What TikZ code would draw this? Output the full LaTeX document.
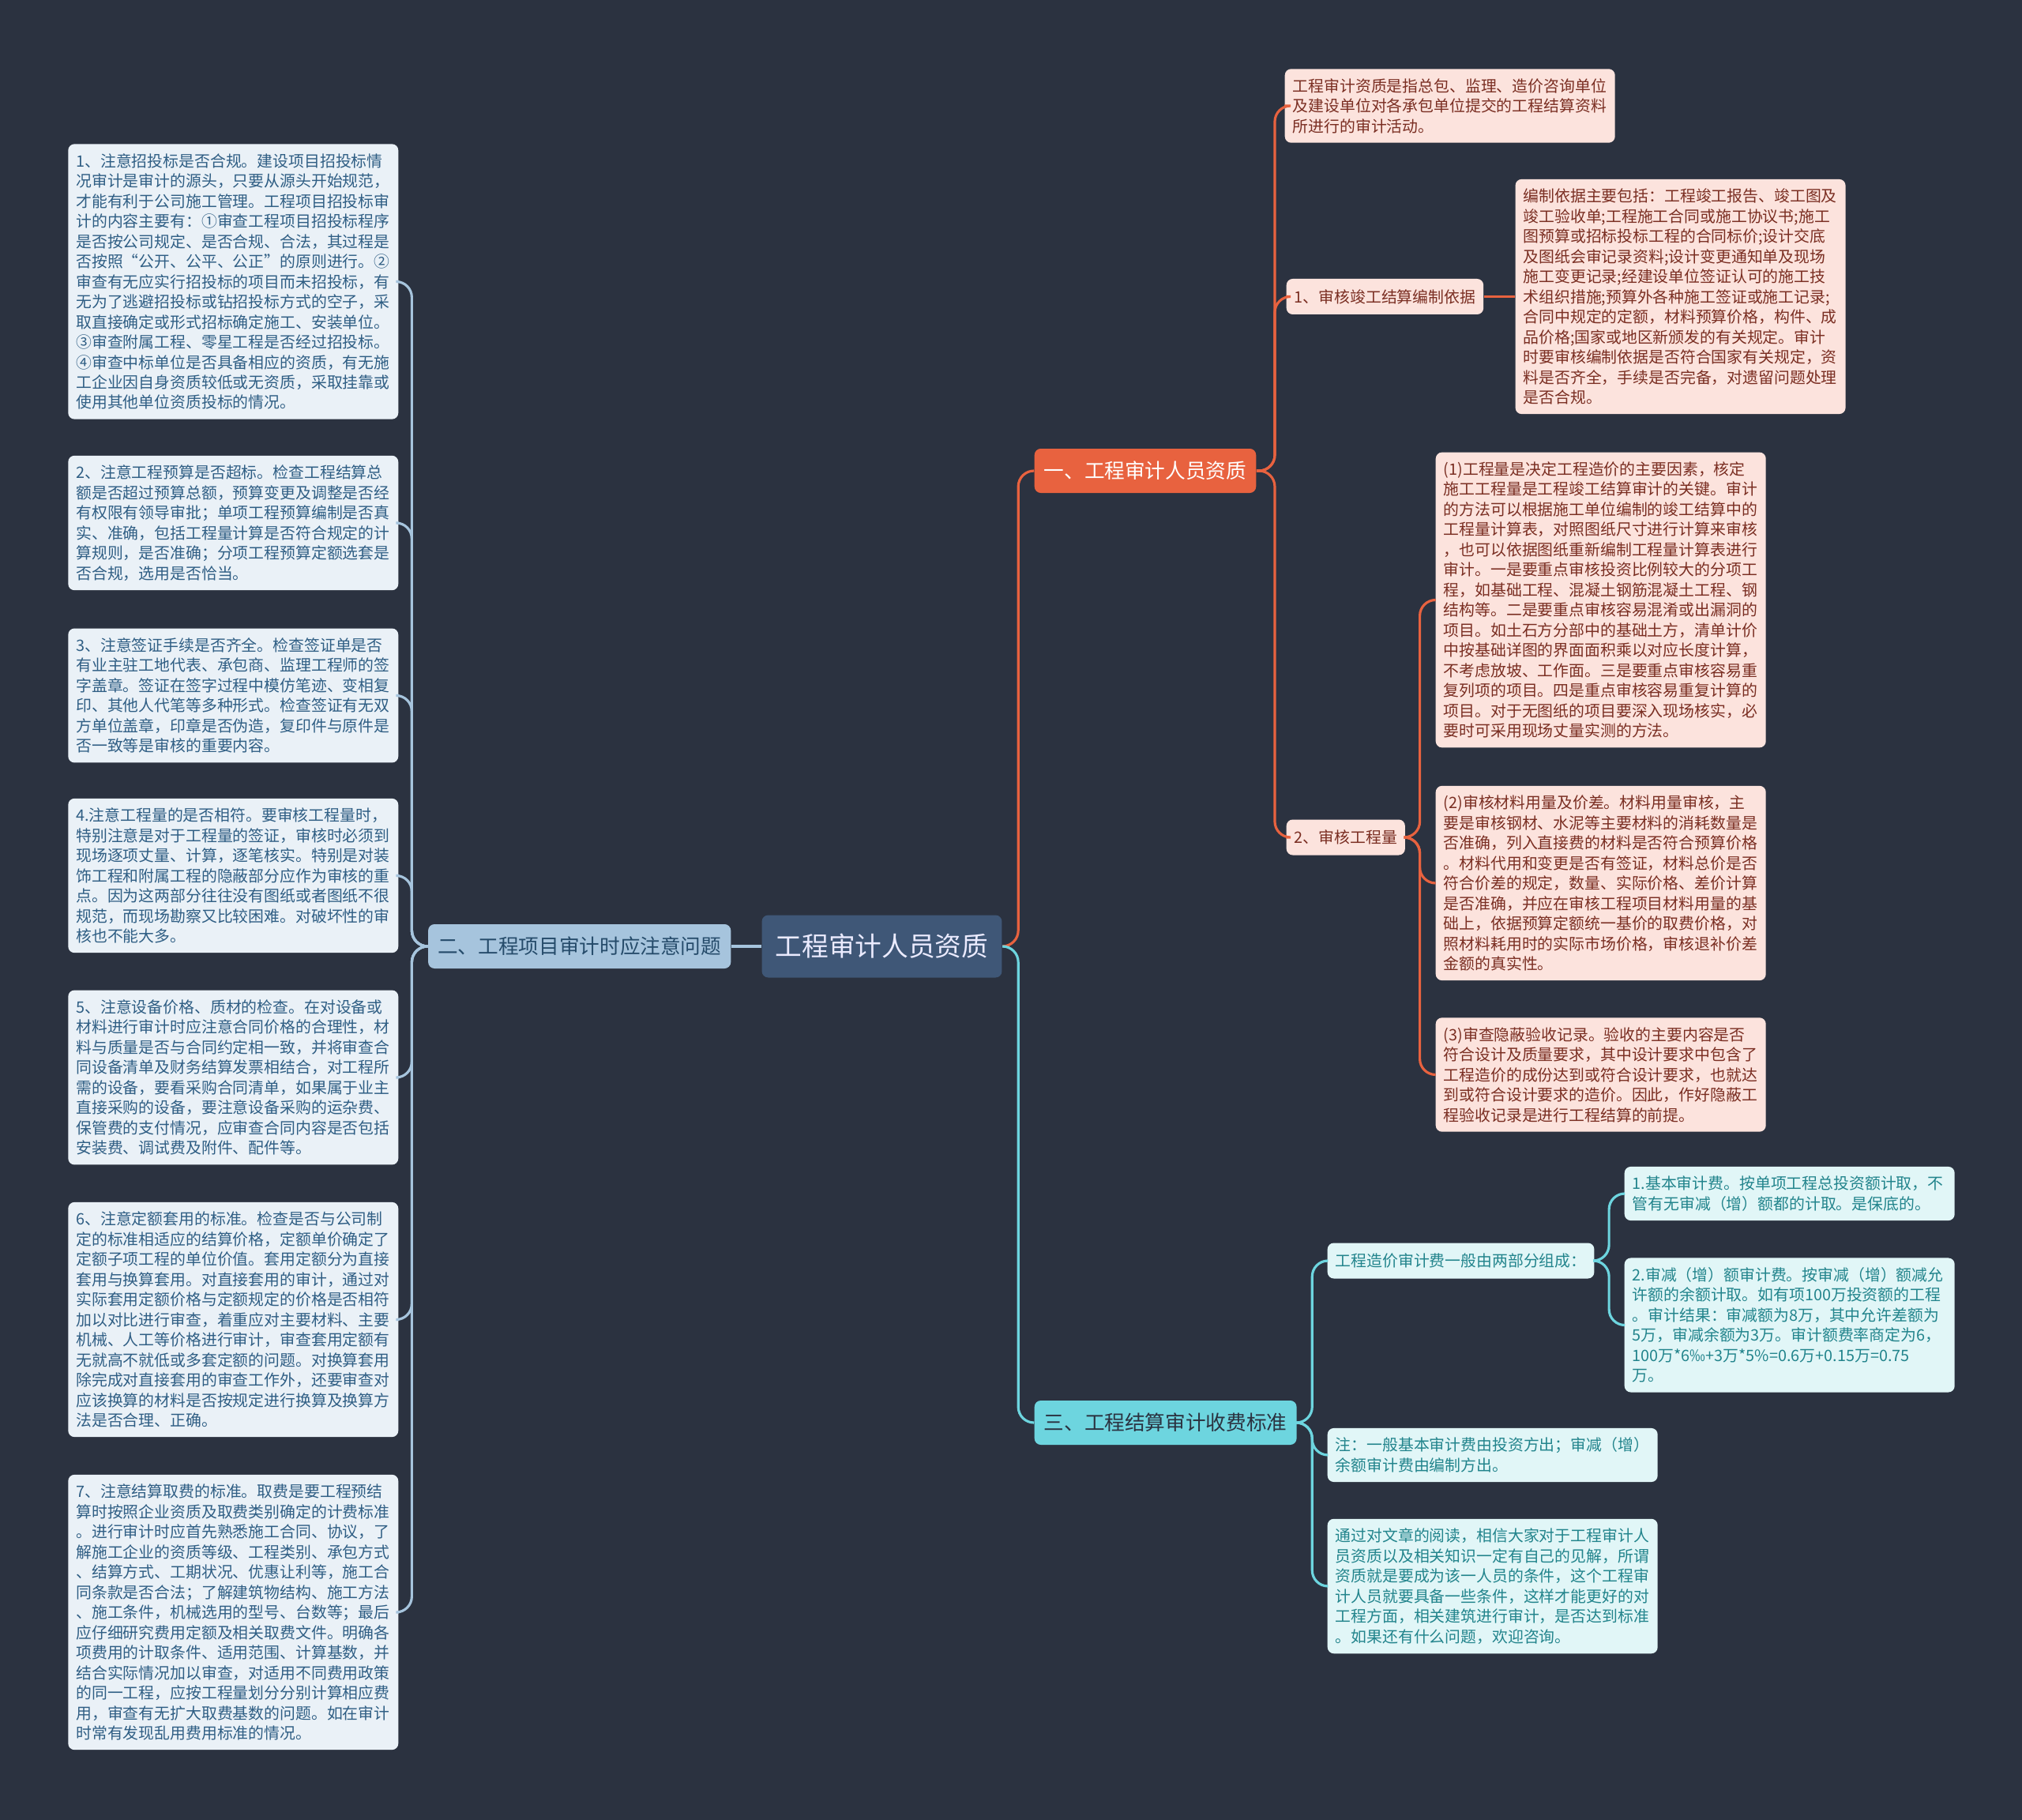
\documentclass[tikz,border=0pt]{standalone}
\usepackage{fontspec}
\usepackage{tikz}
\usetikzlibrary{positioning}
\newfontfamily\cjk{Noto Sans CJK SC}
\definecolor{bgnavy}{HTML}{2B3240}
\definecolor{rootblue}{HTML}{3F5777}
\definecolor{orangered}{HTML}{E8623F}
\definecolor{steelblue}{HTML}{A6C4DD}
\definecolor{cyanish}{HTML}{6DD5DF}
\definecolor{redleaf}{HTML}{FCE3DD}
\definecolor{redtext}{HTML}{7A2E22}
\definecolor{blueleaf}{HTML}{EAF1F7}
\definecolor{bluetext}{HTML}{2F5E84}
\definecolor{cyanleaf}{HTML}{E1F6F7}
\definecolor{cyantext}{HTML}{22848C}

\begin{document}
\begin{tikzpicture}[
    root/.style={fill=rootblue, rounded corners=0.08cm, inner xsep=0.17cm,
                minimum height=0.79cm, text=white!92!blue,
                font=\cjk\fontsize{9.6pt}{11pt}\selectfont},
    branch/.style={rounded corners=0.08cm, inner xsep=0.12cm,
                minimum height=0.56cm, font=\cjk\fontsize{7.3pt}{9pt}\selectfont},
    leaf/.style={rounded corners=0.08cm, inner xsep=0.1cm, inner ysep=0.12cm,
                text width=3.98cm, align=left,
                font=\cjk\fontsize{5.65pt}{7.25pt}\selectfont},
    tag/.style={rounded corners=0.08cm, inner xsep=0.1cm,
                minimum height=0.45cm, font=\cjk\fontsize{5.65pt}{7.25pt}\selectfont},
    redline/.style={draw=orangered, line width=0.9pt, rounded corners=0.2cm},
    blueline/.style={draw=steelblue, line width=0.9pt, rounded corners=0.2cm},
    cyanline/.style={draw=cyanish, line width=0.9pt, rounded corners=0.2cm}
]
\useasboundingbox (0,0) rectangle (25.6,-23.04);
\fill[bgnavy] (0,0) rectangle (25.6,-23.04);

% Root
\node[root] (root) at (11.165,-11.98) {工程审计人员资质};

% Branch 1: 人员资质
\node[branch, fill=orangered, text=white, anchor=west] (b1) at (13.09,-5.96)
    {一、工程审计人员资质};
\node[leaf, fill=redleaf, text=redtext, anchor=west] (t0) at (16.26,-1.34)
    {工程审计资质是指总包、监理、造价咨询单位\\
     及建设单位对各承包单位提交的工程结算资料\\
     所进行的审计活动。};
\node[tag, fill=redleaf, text=redtext, anchor=west] (s1) at (16.28,-3.755)
    {1、审核竣工结算编制依据};
\node[leaf, fill=redleaf, text=redtext, right=0.39cm of s1] (s1d)
    {编制依据主要包括：工程竣工报告、竣工图及\\
     竣工验收单;工程施工合同或施工协议书;施工\\
     图预算或招标投标工程的合同标价;设计交底\\
     及图纸会审记录资料;设计变更通知单及现场\\
     施工变更记录;经建设单位签证认可的施工技\\
     术组织措施;预算外各种施工签证或施工记录;\\
     合同中规定的定额，材料预算价格，构件、成\\
     品价格;国家或地区新颁发的有关规定。审计\\
     时要审核编制依据是否符合国家有关规定，资\\
     料是否齐全，手续是否完备，对遗留问题处理\\
     是否合规。};
\node[tag, fill=redleaf, text=redtext, anchor=west] (s2) at (16.28,-10.60)
    {2、审核工程量};
\node[leaf, fill=redleaf, text=redtext, anchor=west] (q1) at (18.17,-7.595)
    {(1)工程量是决定工程造价的主要因素，核定\\
     施工工程量是工程竣工结算审计的关键。审计\\
     的方法可以根据施工单位编制的竣工结算中的\\
     工程量计算表，对照图纸尺寸进行计算来审核\\
     ，也可以依据图纸重新编制工程量计算表进行\\
     审计。一是要重点审核投资比例较大的分项工\\
     程，如基础工程、混凝土钢筋混凝土工程、钢\\
     结构等。二是要重点审核容易混淆或出漏洞的\\
     项目。如土石方分部中的基础土方，清单计价\\
     中按基础详图的界面面积乘以对应长度计算，\\
     不考虑放坡、工作面。三是要重点审核容易重\\
     复列项的项目。四是重点审核容易重复计算的\\
     项目。对于无图纸的项目要深入现场核实，必\\
     要时可采用现场丈量实测的方法。};
\node[leaf, fill=redleaf, text=redtext, anchor=west] (q2) at (18.17,-11.18)
    {(2)审核材料用量及价差。材料用量审核，主\\
     要是审核钢材、水泥等主要材料的消耗数量是\\
     否准确，列入直接费的材料是否符合预算价格\\
     。材料代用和变更是否有签证，材料总价是否\\
     符合价差的规定，数量、实际价格、差价计算\\
     是否准确，并应在审核工程项目材料用量的基\\
     础上，依据预算定额统一基价的取费价格，对\\
     照材料耗用时的实际市场价格，审核退补价差\\
     金额的真实性。};
\node[leaf, fill=redleaf, text=redtext, anchor=west] (q3) at (18.17,-13.605)
    {(3)审查隐蔽验收记录。验收的主要内容是否\\
     符合设计及质量要求，其中设计要求中包含了\\
     工程造价的成份达到或符合设计要求，也就达\\
     到或符合设计要求的造价。因此，作好隐蔽工\\
     程验收记录是进行工程结算的前提。};

% Branch 3: 收费标准
\node[branch, fill=cyanish, text=bgnavy, anchor=west] (b3) at (13.09,-18.01)
    {三、工程结算审计收费标准};
\node[tag, fill=cyanleaf, text=cyantext, anchor=west] (c1) at (16.80,-15.96)
    {工程造价审计费一般由两部分组成：};
\node[leaf, fill=cyanleaf, text=cyantext, anchor=west] (c1a) at (20.56,-15.11)
    {1.基本审计费。按单项工程总投资额计取，不\\
     管有无审减（增）额都的计取。是保底的。};
\node[leaf, fill=cyanleaf, text=cyantext, anchor=west] (c1b) at (20.56,-16.775)
    {2.审减（增）额审计费。按审减（增）额减允\\
     许额的余额计取。如有项100万投资额的工程\\
     。审计结果：审减额为8万，其中允许差额为\\
     5万，审减余额为3万。审计额费率商定为6，\\
     100万*6‰+3万*5\%=0.6万+0.15万=0.75\\
     万。};
\node[leaf, fill=cyanleaf, text=cyantext, anchor=west] (c2) at (16.80,-18.42)
    {注：一般基本审计费由投资方出；审减（增）\\
     余额审计费由编制方出。};
\node[leaf, fill=cyanleaf, text=cyantext, anchor=west] (c3) at (16.80,-20.08)
    {通过对文章的阅读，相信大家对于工程审计人\\
     员资质以及相关知识一定有自己的见解，所谓\\
     资质就是要成为该一人员的条件，这个工程审\\
     计人员就要具备一些条件，这样才能更好的对\\
     工程方面，相关建筑进行审计，是否达到标准\\
     。如果还有什么问题，欢迎咨询。};

% Branch 2: 注意问题
\node[branch, fill=steelblue, text=bluetext!80!black, anchor=east] (b2) at (9.26,-11.98)
    {二、工程项目审计时应注意问题};
\node[leaf, fill=blueleaf, text=bluetext, anchor=east] (l1) at (5.05,-3.565)
    {1、注意招投标是否合规。建设项目招投标情\\
     况审计是审计的源头，只要从源头开始规范，\\
     才能有利于公司施工管理。工程项目招投标审\\
     计的内容主要有：①审查工程项目招投标程序\\
     是否按公司规定、是否合规、合法，其过程是\\
     否按照“公开、公平、公正”的原则进行。②\\
     审查有无应实行招投标的项目而未招投标，有\\
     无为了逃避招投标或钻招投标方式的空子，采\\
     取直接确定或形式招标确定施工、安装单位。\\
     ③审查附属工程、零星工程是否经过招投标。\\
     ④审查中标单位是否具备相应的资质，有无施\\
     工企业因自身资质较低或无资质，采取挂靠或\\
     使用其他单位资质投标的情况。};
\node[leaf, fill=blueleaf, text=bluetext, anchor=east] (l2) at (5.05,-6.62)
    {2、注意工程预算是否超标。检查工程结算总\\
     额是否超过预算总额，预算变更及调整是否经\\
     有权限有领导审批；单项工程预算编制是否真\\
     实、准确，包括工程量计算是否符合规定的计\\
     算规则，是否准确；分项工程预算定额选套是\\
     否合规，选用是否恰当。};
\node[leaf, fill=blueleaf, text=bluetext, anchor=east] (l3) at (5.05,-8.805)
    {3、注意签证手续是否齐全。检查签证单是否\\
     有业主驻工地代表、承包商、监理工程师的签\\
     字盖章。签证在签字过程中模仿笔迹、变相复\\
     印、其他人代笔等多种形式。检查签证有无双\\
     方单位盖章，印章是否伪造，复印件与原件是\\
     否一致等是审核的重要内容。};
\node[leaf, fill=blueleaf, text=bluetext, anchor=east] (l4) at (5.05,-11.085)
    {4.注意工程量的是否相符。要审核工程量时，\\
     特别注意是对于工程量的签证，审核时必须到\\
     现场逐项丈量、计算，逐笔核实。特别是对装\\
     饰工程和附属工程的隐蔽部分应作为审核的重\\
     点。因为这两部分往往没有图纸或者图纸不很\\
     规范，而现场勘察又比较困难。对破坏性的审\\
     核也不能大多。};
\node[leaf, fill=blueleaf, text=bluetext, anchor=east] (l5) at (5.05,-13.64)
    {5、注意设备价格、质材的检查。在对设备或\\
     材料进行审计时应注意合同价格的合理性，材\\
     料与质量是否与合同约定相一致，并将审查合\\
     同设备清单及财务结算发票相结合，对工程所\\
     需的设备，要看采购合同清单，如果属于业主\\
     直接采购的设备，要注意设备采购的运杂费、\\
     保管费的支付情况，应审查合同内容是否包括\\
     安装费、调试费及附件、配件等。};
\node[leaf, fill=blueleaf, text=bluetext, anchor=east] (l6) at (5.05,-16.705)
    {6、注意定额套用的标准。检查是否与公司制\\
     定的标准相适应的结算价格，定额单价确定了\\
     定额子项工程的单位价值。套用定额分为直接\\
     套用与换算套用。对直接套用的审计，通过对\\
     实际套用定额价格与定额规定的价格是否相符\\
     加以对比进行审查，着重应对主要材料、主要\\
     机械、人工等价格进行审计，审查套用定额有\\
     无就高不就低或多套定额的问题。对换算套用\\
     除完成对直接套用的审查工作外，还要审查对\\
     应该换算的材料是否按规定进行换算及换算方\\
     法是否合理、正确。};
\node[leaf, fill=blueleaf, text=bluetext, anchor=east] (l7) at (5.05,-20.41)
    {7、注意结算取费的标准。取费是要工程预结\\
     算时按照企业资质及取费类别确定的计费标准\\
     。进行审计时应首先熟悉施工合同、协议，了\\
     解施工企业的资质等级、工程类别、承包方式\\
     、结算方式、工期状况、优惠让利等，施工合\\
     同条款是否合法；了解建筑物结构、施工方法\\
     、施工条件，机械选用的型号、台数等；最后\\
     应仔细研究费用定额及相关取费文件。明确各\\
     项费用的计取条件、适用范围、计算基数，并\\
     结合实际情况加以审查，对适用不同费用政策\\
     的同一工程，应按工程量划分分别计算相应费\\
     用，审查有无扩大取费基数的问题。如在审计\\
     时常有发现乱用费用标准的情况。};

% Connectors
\draw[redline] (root.east) -- ++(0.2,0) |- (b1.west);
\draw[cyanline] (root.east) -- ++(0.2,0) |- (b3.west);
\draw[blueline] (root.west) -- (b2.east);

\foreach \n in {t0,s1,s2}
    \draw[redline] (b1.east) -- ++(0.23,0) |- (\n.west);
\draw[redline] (s1.east) -- (s1d.west);
\foreach \n in {q1,q2,q3}
    \draw[redline] (s2.east) -- ++(0.18,0) |- (\n.west);

\foreach \n in {c1,c2,c3}
    \draw[cyanline] (b3.east) -- ++(0.19,0) |- (\n.west);
\foreach \n in {c1a,c1b}
    \draw[cyanline] (c1.east) -- ++(0.18,0) |- (\n.west);

\foreach \n in {l1,l2,l3,l4,l5,l6,l7}
    \draw[blueline] (b2.west) -- ++(-0.2,0) |- (\n.east);

\end{tikzpicture}
\end{document}
